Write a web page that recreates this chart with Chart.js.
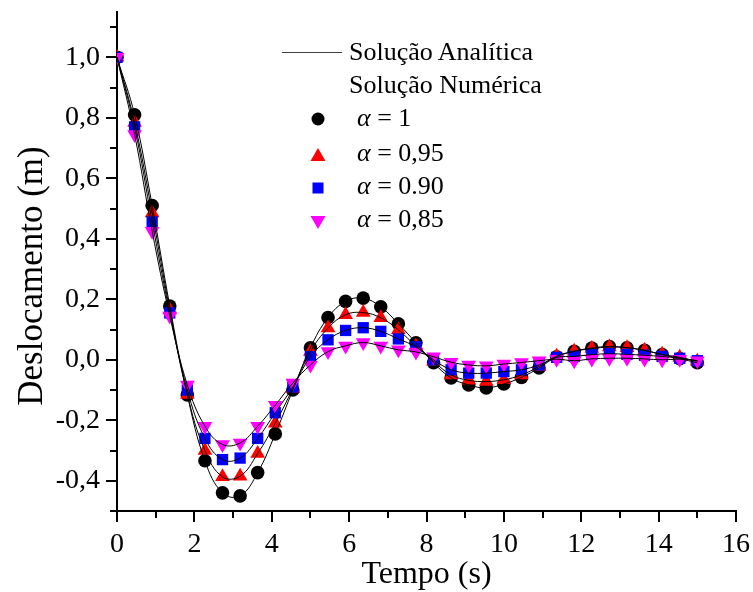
<!DOCTYPE html>
<html><head><meta charset="utf-8">
<script src="https://cdn.jsdelivr.net/npm/chart.js@4.4.1/dist/chart.umd.min.js"></script>
<style>
html,body{margin:0;padding:0;background:#fff;}
#wrap{position:relative;width:753px;height:592px;}
#legend{position:absolute;left:0;top:0;width:753px;height:592px;font-family:"Liberation Serif","Times New Roman",serif;font-size:26px;color:#000;pointer-events:none;}
.row{position:absolute;white-space:nowrap;line-height:1;}
#legend svg{position:absolute;left:0;top:0;}
#ytitle{position:absolute;left:30px;top:276px;transform:translate(-50%,-50%) rotate(-90deg);white-space:nowrap;font-size:35px;line-height:1;}
</style></head><body>
<div id="wrap"><canvas id="c" width="753" height="592"></canvas>
<div id="legend">
<svg width="753" height="592">
<line x1="282" y1="52.5" x2="342" y2="52.5" stroke="#444" stroke-width="1"/>
<circle cx="318" cy="119" r="6.5" fill="#000"/>
<polygon points="318,148 325.5,161 310.5,161" fill="#f00"/>
<rect x="312.5" y="182.5" width="11" height="11" fill="#00f"/>
<polygon points="310.5,216 325.5,216 318,229" fill="#f0f"/>
</svg>
<div id="ytitle">Deslocamento (m)</div>
<div class="row" style="left:349px;top:39px">Solução Analítica</div>
<div class="row" style="left:349px;top:72px">Solução Numérica</div>
<div class="row" style="left:357px;top:105px"><i>α</i> = 1</div>
<div class="row" style="left:357px;top:140px"><i>α</i> = 0,95</div>
<div class="row" style="left:357px;top:173px"><i>α</i> = 0.90</div>
<div class="row" style="left:357px;top:206px"><i>α</i> = 0,85</div>
</div>
</div>
<script>
const times = [0, 0.455, 0.909, 1.364, 1.818, 2.273, 2.727, 3.182, 3.636, 4.091, 4.545, 5.0, 5.455, 5.909, 6.364, 6.818, 7.273, 7.727, 8.182, 8.636, 9.091, 9.545, 10.0, 10.455, 10.909, 11.364, 11.818, 12.273, 12.727, 13.182, 13.636, 14.091, 14.545, 15.0];
const alpha100 = [1.0, 0.81, 0.51, 0.178, -0.116, -0.334, -0.44, -0.45, -0.373, -0.245, -0.10, 0.04, 0.14, 0.193, 0.204, 0.175, 0.119, 0.056, -0.01, -0.06, -0.083, -0.093, -0.08, -0.058, -0.027, 0.01, 0.028, 0.039, 0.044, 0.04, 0.031, 0.017, 0.004, -0.01];
const alpha095 = [1.0, 0.785, 0.485, 0.165, -0.115, -0.30, -0.387, -0.385, -0.31, -0.21, -0.095, 0.027, 0.105, 0.149, 0.156, 0.139, 0.099, 0.045, -0.005, -0.05, -0.068, -0.072, -0.066, -0.05, -0.022, 0.012, 0.028, 0.037, 0.042, 0.04, 0.031, 0.018, 0.008, -0.005];
const alpha090 = [1.0, 0.77, 0.456, 0.155, -0.10, -0.26, -0.33, -0.325, -0.26, -0.175, -0.09, 0.01, 0.066, 0.097, 0.106, 0.094, 0.069, 0.043, 0.0, -0.033, -0.044, -0.044, -0.039, -0.033, -0.017, 0.008, 0.011, 0.017, 0.02, 0.018, 0.015, 0.011, 0.005, -0.003];
const alpha085 = [1.0, 0.745, 0.425, 0.145, -0.083, -0.22, -0.28, -0.275, -0.22, -0.15, -0.077, -0.017, 0.027, 0.046, 0.057, 0.046, 0.033, 0.026, 0.01, -0.008, -0.017, -0.02, -0.014, -0.009, -0.003, 0.002, -0.003, 0.003, 0.005, 0.005, 0.003, 0.0, 0.002, -0.003];
const xMajorTicks = [0, 2, 4, 6, 8, 10, 12, 14, 16];
const xMinorTicks = [1, 3, 5, 7, 9, 11, 13, 15];
const yMajorTicks = [-0.4, -0.2, 0.0, 0.2, 0.4, 0.6, 0.8, 1.0];
const yMinorTicks = [-0.5, -0.3, -0.1, 0.1, 0.3, 0.5, 0.7, 0.9, 1.1];

const pts = arr => times.map((t, i) => ({x: t, y: arr[i]}));
const serif = '"Liberation Serif","Times New Roman",serif';

function lineDs(arr) {
  return {data: pts(arr), showLine: true, borderColor: '#000', borderWidth: 1, pointRadius: 0, tension: 0.4, order: 0};
}
function markDs(arr, color, style, radius, rot, ord) {
  return {data: pts(arr), showLine: false, pointStyle: style, pointRadius: radius, pointRotation: rot,
    backgroundColor: color, borderColor: color, borderWidth: 0, order: ord};
}

const tickPlugin = {
  id: 'ticks',
  afterDraw(chart) {
    const ctx = chart.ctx, xs = chart.scales.x, ys = chart.scales.y;
    const a = chart.chartArea;
    ctx.save();
    ctx.strokeStyle = '#000';
    ctx.lineWidth = 2;
    ctx.beginPath();
    const drawY = (vals, len) => vals.forEach(v => {
      const p = Math.round(ys.getPixelForValue(v));
      ctx.moveTo(a.left - len, p); ctx.lineTo(a.left, p);
    });
    const drawX = (vals, len) => vals.forEach(v => {
      const p = Math.round(xs.getPixelForValue(v));
      ctx.moveTo(p, a.bottom); ctx.lineTo(p, a.bottom + len);
    });
    drawY(yMajorTicks, 11); drawY(yMinorTicks, 7);
    drawX(xMajorTicks, 11); drawX(xMinorTicks, 7);
    ctx.stroke();
    ctx.restore();
  }
};

new Chart(document.getElementById('c'), {
  type: 'scatter',
  data: {
    datasets: [
      lineDs(alpha100), lineDs(alpha095), lineDs(alpha090), lineDs(alpha085),
      markDs(alpha085, '#ff00ff', 'triangle', 8.5, 180, 1),
      markDs(alpha090, '#0000ff', 'rect', 8, 0, 2),
      markDs(alpha095, '#ff0000', 'triangle', 8.5, 0, 3),
      markDs(alpha100, '#000000', 'circle', 6.8, 0, 4)
    ]
  },
  options: {
    responsive: false,
    animation: false,
    events: [],
    devicePixelRatio: 1,
    layout: {padding: {top: 12, right: 17, left: 0, bottom: 0}},
    plugins: {legend: {display: false}, tooltip: {enabled: false}},
    scales: {
      x: {
        type: 'linear', min: 0, max: 16,
        grid: {display: false, drawTicks: false},
        border: {display: true, color: '#000', width: 2},
        afterBuildTicks: s => { s.ticks = xMajorTicks.map(v => ({value: v})); },
        afterFit: s => { s.height = 81; s.paddingLeft = 0; s.paddingRight = 0; },
        ticks: {color: '#000', font: {family: serif, size: 28}, padding: 17, maxRotation: 0,
          callback: v => String(v)},
        title: {display: true, text: 'Tempo (s)', color: '#000', font: {family: serif, size: 32, lineHeight: 1.1}, padding: {top: 0, bottom: 0}}
      },
      y: {
        type: 'linear', min: -0.5, max: 1.15,
        grid: {display: false, drawTicks: false},
        border: {display: true, color: '#000', width: 2},
        afterBuildTicks: s => { s.ticks = yMajorTicks.map(v => ({value: v})); },
        afterFit: s => { s.width = 117; s.paddingTop = 0; s.paddingBottom = 0; },
        ticks: {color: '#000', font: {family: serif, size: 28}, padding: 17,
          callback: v => { const r = Math.round(v * 10) / 10; return (r < 0 ? '-' : '') + Math.abs(r).toFixed(1).replace('.', ','); }},
        title: {display: false}
      }
    }
  },
  plugins: [tickPlugin]
});
</script>
</body></html>
